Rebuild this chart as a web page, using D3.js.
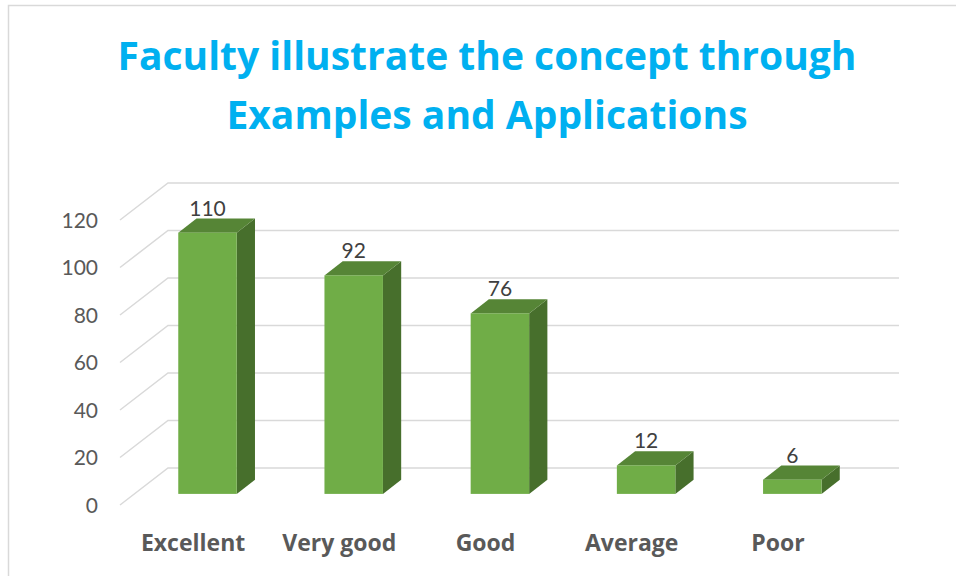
<!DOCTYPE html>
<html>
<head>
<meta charset="utf-8">
<script src="https://cdn.jsdelivr.net/npm/d3@7"></script>
<style>
  body { margin: 0; background: #fff; }
  text { font-family: Lato, "Noto Sans", sans-serif; }
  text.title, text.xlabel { font-family: "Open Sans", Lato, sans-serif; }
</style>
</head>
<body>
<div id="chart"></div>
<script>
var categories = ["Excellent", "Very good", "Good", "Average", "Poor"];
var values = [110, 92, 76, 12, 6];
var yTicks = [0, 20, 40, 60, 80, 100, 120];
var titleLines = ["Faculty illustrate the concept through", "Examples and Applications"];

var svg = d3.select("#chart")
            .append("svg")
            .attr("width", 956)
            .attr("height", 576);

// chart frame
svg.append("rect")
   .attr("x", 8.5).attr("y", 5.5)
   .attr("width", 1000).attr("height", 700)
   .attr("fill", "none")
   .attr("stroke", "#d9d9d9")
   .attr("stroke-width", 1.5);

// title
svg.selectAll("text.title")
   .data(titleLines)
   .enter()
   .append("text")
   .attr("class", "title")
   .attr("x", 487)
   .attr("y", function(d, i) { return 70 + i * 59; })
   .attr("text-anchor", "middle")
   .attr("font-size", 39)
   .attr("font-weight", "bold")
   .attr("fill", "#00b0f0")
   .text(function(d) { return d; });

// front plane scales, depth goes back up-right
var x = d3.scaleBand().domain(categories).range([120, 851]).paddingInner(0.6).paddingOuter(0.3),
    y = d3.scaleLinear().domain([0, 120]).range([505, 220]),
    depthX = d3.scaleLinear().domain([0, 1]).range([0, 48]),
    depthY = d3.scaleLinear().domain([0, 1]).range([0, -37]);

var barFront = 0.3, barBack = 0.68;

// gridlines: diagonal on the side wall + horizontal on the back wall
var grid = svg.append("g").attr("stroke", "#d9d9d9").attr("stroke-width", 1.5).attr("fill", "none");
grid.selectAll("path")
    .data(yTicks)
    .enter()
    .append("path")
    .attr("d", function(d) {
      var x0 = x.range()[0], x1 = x.range()[1];
      return "M" + x0 + "," + y(d) +
             "L" + (x0 + depthX(1)) + "," + (y(d) + depthY(1)) +
             "L" + (x1 + depthX(1)) + "," + (y(d) + depthY(1));
    });

// y tick labels
svg.selectAll("text.ytick")
   .data(yTicks)
   .enter()
   .append("text")
   .attr("class", "ytick")
   .attr("x", 98)
   .attr("y", function(d) { return y(d); })
   .attr("dy", "0.36em")
   .attr("text-anchor", "end")
   .attr("font-size", 21)
   .attr("fill", "#595959")
   .text(function(d) { return d; });

// 3d bars
var ddx = depthX(barBack) - depthX(barFront),
    ddy = depthY(barBack) - depthY(barFront);

var bars = svg.selectAll("g.bar")
   .data(categories.map(function(c, i) { return {cat: c, value: values[i]}; }))
   .enter()
   .append("g")
   .attr("class", "bar");

function geom(d) {
  var x0 = x(d.cat) + depthX(barFront),
      x1 = x0 + x.bandwidth(),
      yt = y(d.value) + depthY(barFront),
      yb = y(0) + depthY(barFront);
  return {x0: x0, x1: x1, yt: yt, yb: yb};
}

bars.append("path")
    .attr("fill", "#476f2c")
    .attr("d", function(d) {
      var g = geom(d);
      return "M" + g.x1 + "," + g.yt + "L" + (g.x1 + ddx) + "," + (g.yt + ddy) +
             "L" + (g.x1 + ddx) + "," + (g.yb + ddy) + "L" + g.x1 + "," + g.yb + "Z";
    });

bars.append("path")
    .attr("fill", "#568536")
    .attr("d", function(d) {
      var g = geom(d);
      return "M" + g.x0 + "," + g.yt + "L" + g.x1 + "," + g.yt +
             "L" + (g.x1 + ddx) + "," + (g.yt + ddy) + "L" + (g.x0 + ddx) + "," + (g.yt + ddy) + "Z";
    });

bars.append("rect")
    .attr("fill", "#70ad47")
    .attr("x", function(d) { return geom(d).x0; })
    .attr("y", function(d) { return geom(d).yt; })
    .attr("width", x.bandwidth())
    .attr("height", function(d) { var g = geom(d); return g.yb - g.yt; });

// value labels
bars.append("text")
    .attr("x", function(d) { var g = geom(d); return (g.x0 + g.x1) / 2; })
    .attr("y", function(d) { return geom(d).yt + ddy - 3; })
    .attr("text-anchor", "middle")
    .attr("font-size", 21)
    .attr("fill", "#404040")
    .text(function(d) { return d.value; });

// category labels
svg.selectAll("text.xlabel")
   .data(categories)
   .enter()
   .append("text")
   .attr("class", "xlabel")
   .attr("x", function(d) { return x(d) + x.bandwidth() / 2; })
   .attr("y", 551)
   .attr("text-anchor", "middle")
   .attr("font-size", 23)
   .attr("font-weight", "bold")
   .attr("fill", "#595959")
   .text(function(d) { return d; });
</script>
</body>
</html>
